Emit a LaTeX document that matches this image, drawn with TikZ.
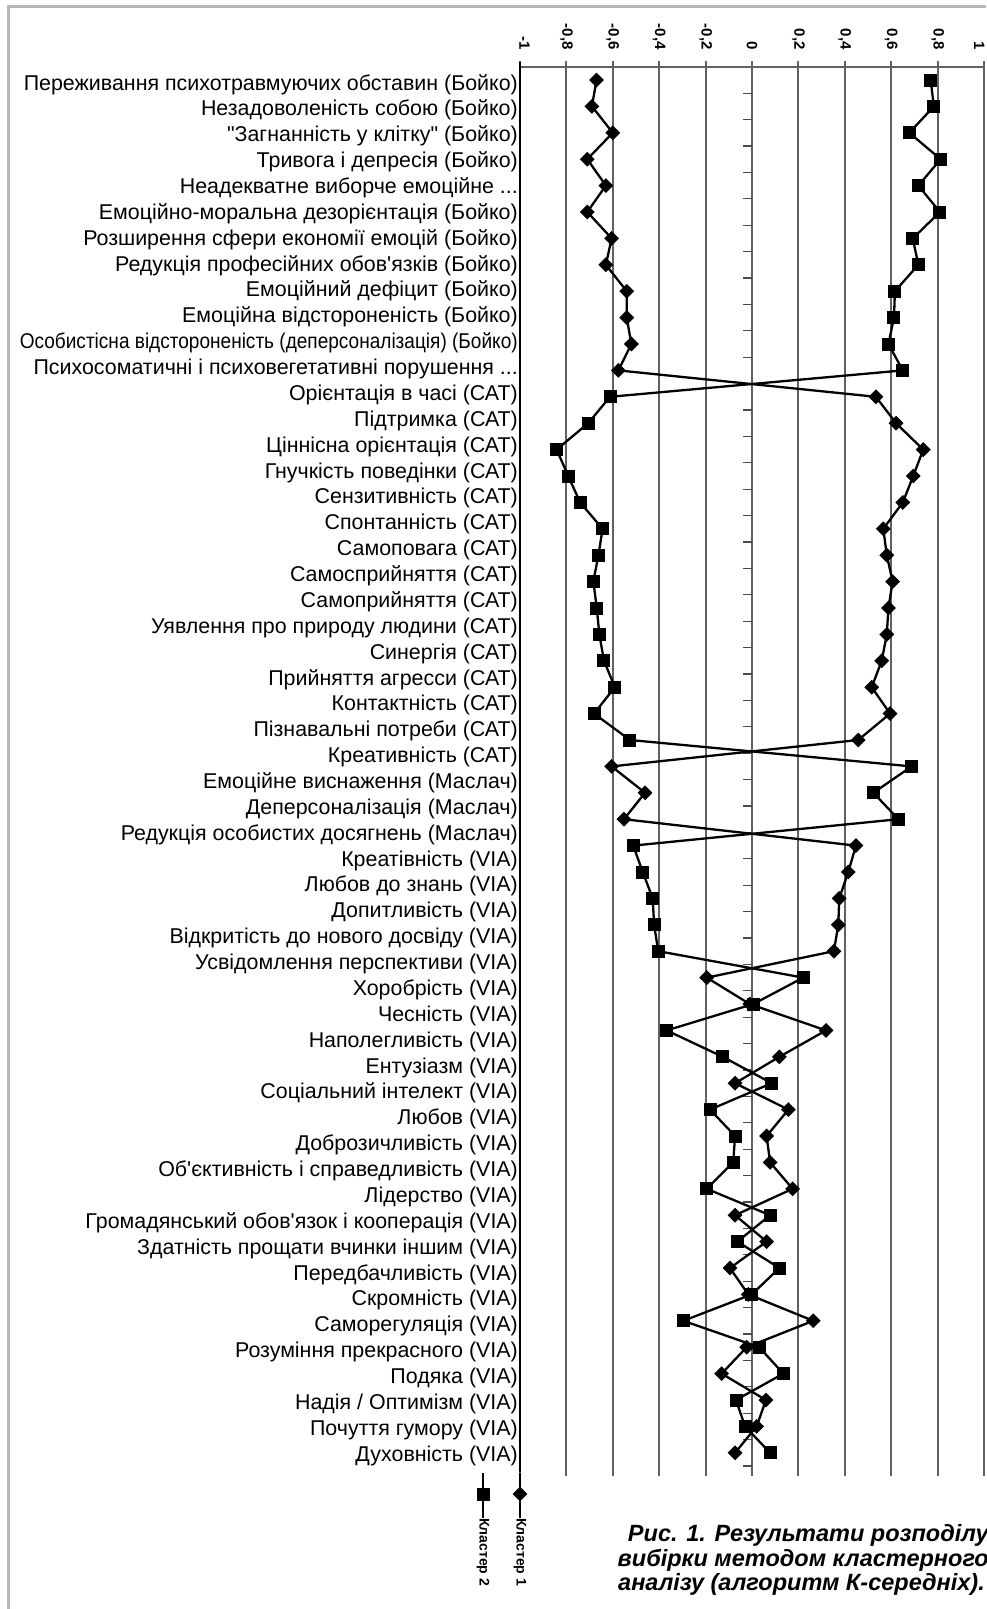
\documentclass[tikz,border=0pt]{standalone}
\usepackage{graphicx}
\usepackage{fontspec}
\setmainfont{Liberation Sans}[Ligatures=TeXOff]
\usetikzlibrary{shapes.geometric}
\newcommand{\valx}[1]{752+232*(#1)}
\newcommand{\cutdots}{...}

\begin{document}
\begin{tikzpicture}[x=1pt, y=-1pt,
    frameline/.style={draw=black!28, line width=3pt},
    gridline/.style={draw=black!62, line width=2pt},
    cattick/.style={draw=black!70, line width=1.2pt},
    series/.style={draw=black, line width=2.3pt, line join=round},
    sqmark/.style={rectangle, fill=black, inner sep=0pt, minimum size=13pt},
    dimark/.style={diamond, aspect=1, fill=black, inner sep=0pt, minimum size=15pt},
    rowlabel/.style={anchor=base east, inner sep=0pt, font=\fontsize{21.4}{21.4}\selectfont},
    ticklabel/.style={rotate=-90, anchor=east, inner sep=0pt, font=\fontsize{15}{15}\selectfont\bfseries},
    legendtext/.style={rotate=-90, anchor=west, inner sep=0pt, font=\fontsize{14}{14}\selectfont\bfseries},
    captionline/.style={anchor=base east, inner sep=0pt, font=\fontsize{23.5}{23.5}\selectfont\bfseries\itshape}]
  \useasboundingbox (0,0) rectangle (986,1609);
  \fill[white] (0,0) rectangle (986,1609);
  \draw[frameline] (8,1609) -- (8,6) -- (986,6);
  \foreach \v in {-1,-0.8,...,1.01}
    \draw[gridline] ({\valx{\v}},61) -- ({\valx{\v}},1476);
  \draw[gridline] (520,66.7) -- (984,66.7);
  \draw[draw=black, line width=2pt] (520,62) -- (520,1472);
  \foreach \i in {1,...,53}
    \draw[cattick] (743,{66.8+26.4*\i}) -- (752,{66.8+26.4*\i});
  \foreach \t/\v [count=\k] in {-1/-0.98,{-0,8/-0.8},{-0,6/-0.6},{-0,4/-0.4},{-0,2/-0.2},0/0,{0,2/0.2},{0,4/0.4},{0,6/0.6},{0,8/0.8},1/0.98}
    \node[ticklabel] (tick\k) at ({\valx{\v}},50) {\t};

  \foreach \v [count=\i] in {-0.67,-0.69,-0.60,-0.71,-0.63,-0.71,-0.605,-0.63,-0.54,-0.54,-0.52,-0.576,
      0.534,0.621,0.738,0.695,0.65,0.566,0.581,0.606,0.588,0.581,0.559,0.516,0.595,0.458,
      -0.605,-0.461,-0.552,0.448,0.415,0.376,0.372,0.353,-0.195,-0.01,0.319,0.118,-0.073,
      0.157,0.063,0.078,0.175,-0.073,0.063,-0.095,-0.016,0.264,-0.023,-0.131,0.06,0.02,-0.073}
    \node[dimark] (klA-\i) at ({\valx{\v}},{80+26.4*(\i-1)}) {};
  \foreach \v [count=\i] in {0.77,0.784,0.678,0.813,0.717,0.81,0.693,0.717,0.616,0.612,0.588,0.65,
      -0.612,-0.706,-0.842,-0.792,-0.741,-0.644,-0.662,-0.684,-0.669,-0.658,-0.638,-0.591,-0.681,-0.526,
      0.688,0.523,0.631,-0.512,-0.471,-0.428,-0.422,-0.404,0.221,0.006,-0.368,-0.126,0.085,
      -0.181,-0.073,-0.081,-0.195,0.078,-0.063,0.118,-0.001,-0.296,0.031,0.135,-0.069,-0.03,0.078}
    \node[sqmark] (klB-\i) at ({\valx{\v}},{80+26.4*(\i-1)}) {};
  \draw[series] (klA-1.center) \foreach \i in {2,...,53} { -- (klA-\i.center) };
  \draw[series] (klB-1.center) \foreach \i in {2,...,53} { -- (klB-\i.center) };

  \foreach \t [count=\i] in {Переживання психотравмуючих обставин (Бойко),
      Незадоволеність собою (Бойко),
      "Загнанність у клітку" (Бойко),
      Тривога і депресія (Бойко),
      Неадекватне виборче емоційне \cutdots,
      Емоційно-моральна дезорієнтація (Бойко),
      Розширення сфери економії емоцій (Бойко),
      Редукція професійних обов'язків (Бойко),
      Емоційний дефіцит (Бойко),
      Емоційна відстороненість (Бойко),
      {\resizebox{498pt}{\height}{Особистісна відстороненість (деперсоналізація) (Бойко)}},
      Психосоматичні і психовегетативні порушення \cutdots,
      Орієнтація в часі (САТ),
      Підтримка (САТ),
      Ціннісна орієнтація (САТ),
      Гнучкість поведінки (САТ),
      Сензитивність (САТ),
      Спонтанність (САТ),
      Самоповага (САТ),
      Самосприйняття (САТ),
      Самоприйняття (САТ),
      Уявлення про природу людини (САТ),
      Синергія (САТ),
      Прийняття агресси (САТ),
      Контактність (САТ),
      Пізнавальні потреби (САТ),
      Креативність (САТ),
      Емоційне виснаження (Маслач),
      Деперсоналізація (Маслач),
      Редукція особистих досягнень (Маслач),
      Креатівність (VIA),
      Любов до знань (VIA),
      Допитливість (VIA),
      Відкритість до нового досвіду (VIA),
      Усвідомлення перспективи (VIA),
      Хоробрість (VIA),
      Чесність (VIA),
      Наполегливість (VIA),
      Ентузіазм (VIA),
      Соціальний інтелект (VIA),
      Любов (VIA),
      Доброзичливість (VIA),
      Об'єктивність і справедливість (VIA),
      Лідерство (VIA),
      Громадянський обов'язок і кооперація (VIA),
      Здатність прощати вчинки іншим (VIA),
      Передбачливість (VIA),
      Скромність (VIA),
      Саморегуляція (VIA),
      Розуміння прекрасного (VIA),
      Подяка (VIA),
      Надія / Оптимізм (VIA),
      Почуття гумору (VIA),
      Духовність (VIA)}
    \node[rowlabel] (lab\i) at (518,{90+25.87*(\i-1)}) {\t};

  \coordinate (legB-top) at (483,1473);
  \coordinate (legB-bot) at (483,1518);
  \coordinate (legA-top) at (520,1473);
  \coordinate (legA-bot) at (520,1518);
  \draw[series] (legB-top) -- (legB-bot);
  \draw[series] (legA-top) -- (legA-bot);
  \node[sqmark] (legB-mark) at (483,1494) {};
  \node[dimark] (legA-mark) at (520,1494) {};
  \node[legendtext] (legB-text) at (legB-bot) {Кластер 2};
  \node[legendtext] (legA-text) at (legA-bot) {Кластер 1};

  \node[captionline] (cap1) at (989,1541.7) {Рис. 1. Результати розподілу};
  \node[captionline] (cap2) at (989,1566.7) {вибірки методом кластерного};
  \node[captionline] (cap3) at (985,1590.5) {аналізу (алгоритм К-середніх).};
\end{tikzpicture}
\end{document}
